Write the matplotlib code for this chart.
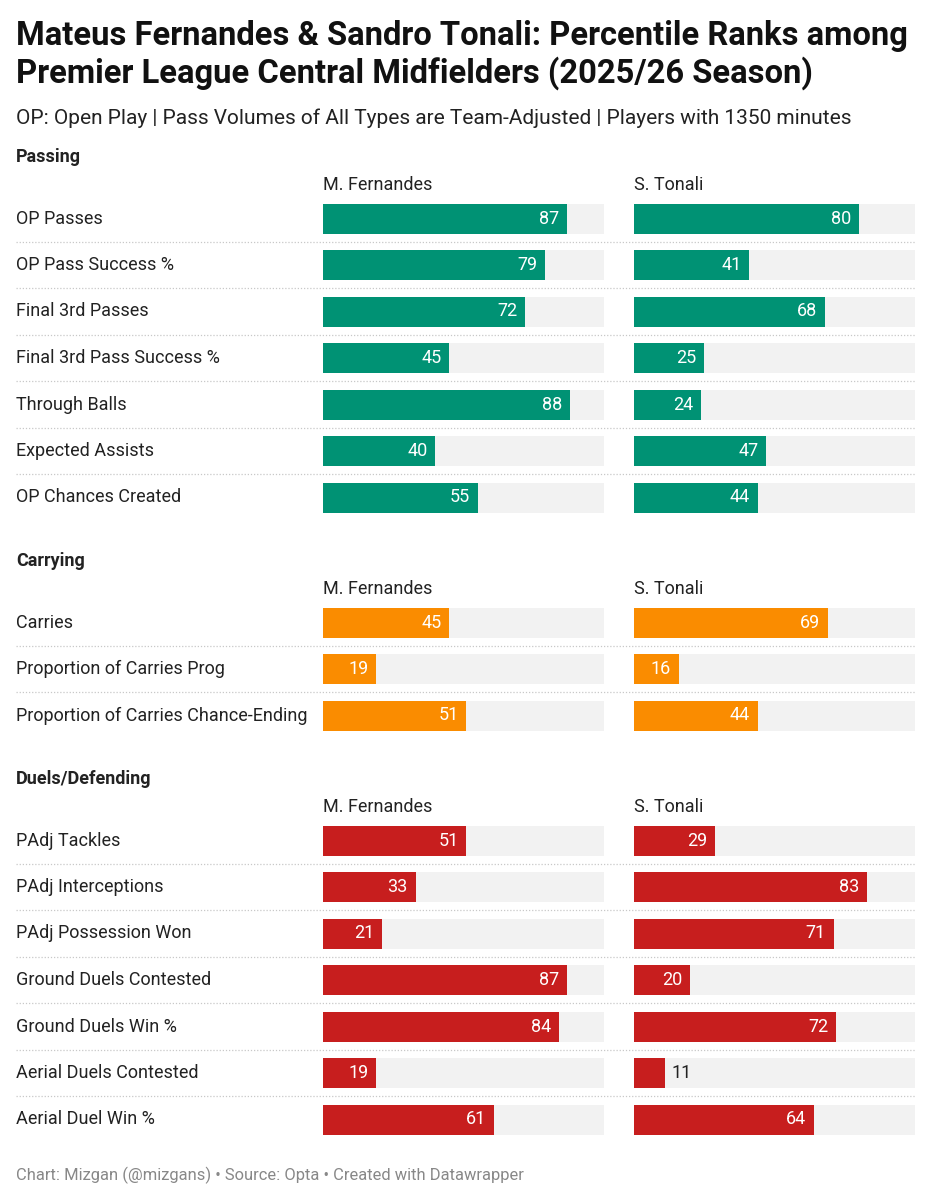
import matplotlib.pyplot as plt

plt.rcParams['font.family'] = ['Roboto', 'DejaVu Sans']

players = ['M. Fernandes', 'S. Tonali']

passing_labels = ['OP Passes', 'OP Pass Success %', 'Final 3rd Passes', 'Final 3rd Pass Success %',
                  'Through Balls', 'Expected Assists', 'OP Chances Created']
passing_fernandes = [87, 79, 72, 45, 88, 40, 55]
passing_tonali = [80, 41, 68, 25, 24, 47, 44]

carrying_labels = ['Carries', 'Proportion of Carries Prog', 'Proportion of Carries Chance-Ending']
carrying_fernandes = [45, 19, 51]
carrying_tonali = [69, 16, 44]

duels_labels = ['PAdj Tackles', 'PAdj Interceptions', 'PAdj Possession Won', 'Ground Duels Contested',
                'Ground Duels Win %', 'Aerial Duels Contested', 'Aerial Duel Win %']
duels_fernandes = [51, 33, 21, 87, 84, 19, 61]
duels_tonali = [29, 83, 71, 20, 72, 11, 64]

# (title, labels, player1, player2, colour, header y px, first row y px)
sections = [
    ('Passing', passing_labels, passing_fernandes, passing_tonali, '#009274', 157, 218.5),
    ('Carrying', carrying_labels, carrying_fernandes, carrying_tonali, '#fa8c00', 561, 622.5),
    ('Duels/Defending', duels_labels, duels_fernandes, duels_tonali, '#c71e1e', 779, 840.5),
]

W, H = 932, 1200
pitch = 46.5
bar_h = 30 / pitch
panels_x = [323, 634]
panel_w = 281

fig = plt.figure(figsize=(W / 100, H / 100), dpi=100)
fig.patch.set_facecolor('white')
bg = fig.add_axes([0, 0, 1, 1])
bg.set_xlim(0, W)
bg.set_ylim(H, 0)
bg.axis('off')

bg.text(16, 36, 'Mateus Fernandes & Sandro Tonali: Percentile Ranks among',
        fontsize=23.6, fontweight='bold', va='center', color='#111111')
bg.text(16, 73, 'Premier League Central Midfielders (2025/26 Season)',
        fontsize=23.6, fontweight='bold', va='center', color='#111111')
bg.text(16, 118, 'OP: Open Play | Pass Volumes of All Types are Team-Adjusted | Players with 1350 minutes',
        fontsize=15, va='center', color='#222222')

for name, labels, vals1, vals2, colour, hy, ry in sections:
    n = len(labels)
    bg.text(16, hy, name, fontsize=13, fontweight='bold', va='center', color='#222222')
    for px, pl in zip(panels_x, players):
        bg.text(px, hy + 28, pl, fontsize=13, va='center', color='#222222')
    for i, lab in enumerate(labels):
        bg.text(16, ry + i * pitch, lab, fontsize=13, va='center', color='#222222')
        if i > 0:
            y = ry + (i - 0.5) * pitch
            bg.plot([16, 915], [y, y], ls=(0, (1, 1.5)), color='#c8c8c8', lw=0.9)

    top = ry - pitch / 2
    for px, vals in zip(panels_x, [vals1, vals2]):
        ax = fig.add_axes([px / W, 1 - (top + n * pitch) / H, panel_w / W, n * pitch / H])
        ax.set_xlim(0, 100)
        ax.set_ylim(n - 0.5, -0.5)
        ax.axis('off')
        ax.barh(range(n), [100] * n, height=bar_h, color='#f2f2f2')
        ax.barh(range(n), vals, height=bar_h, color=colour)
        for i, v in enumerate(vals):
            if v >= 15:
                ax.text(v - 2.8, i, str(v), ha='right', va='center', color='white', fontsize=13)
            else:
                ax.text(v + 2.2, i, str(v), ha='left', va='center', color='#222222', fontsize=13)

bg.text(16, 1175, 'Chart: Mizgan (@mizgans) \u2022 Source: Opta \u2022 Created with Datawrapper',
        fontsize=11.9, va='center', color='#888888')

fig.savefig('out.png', dpi=100, facecolor='white')
